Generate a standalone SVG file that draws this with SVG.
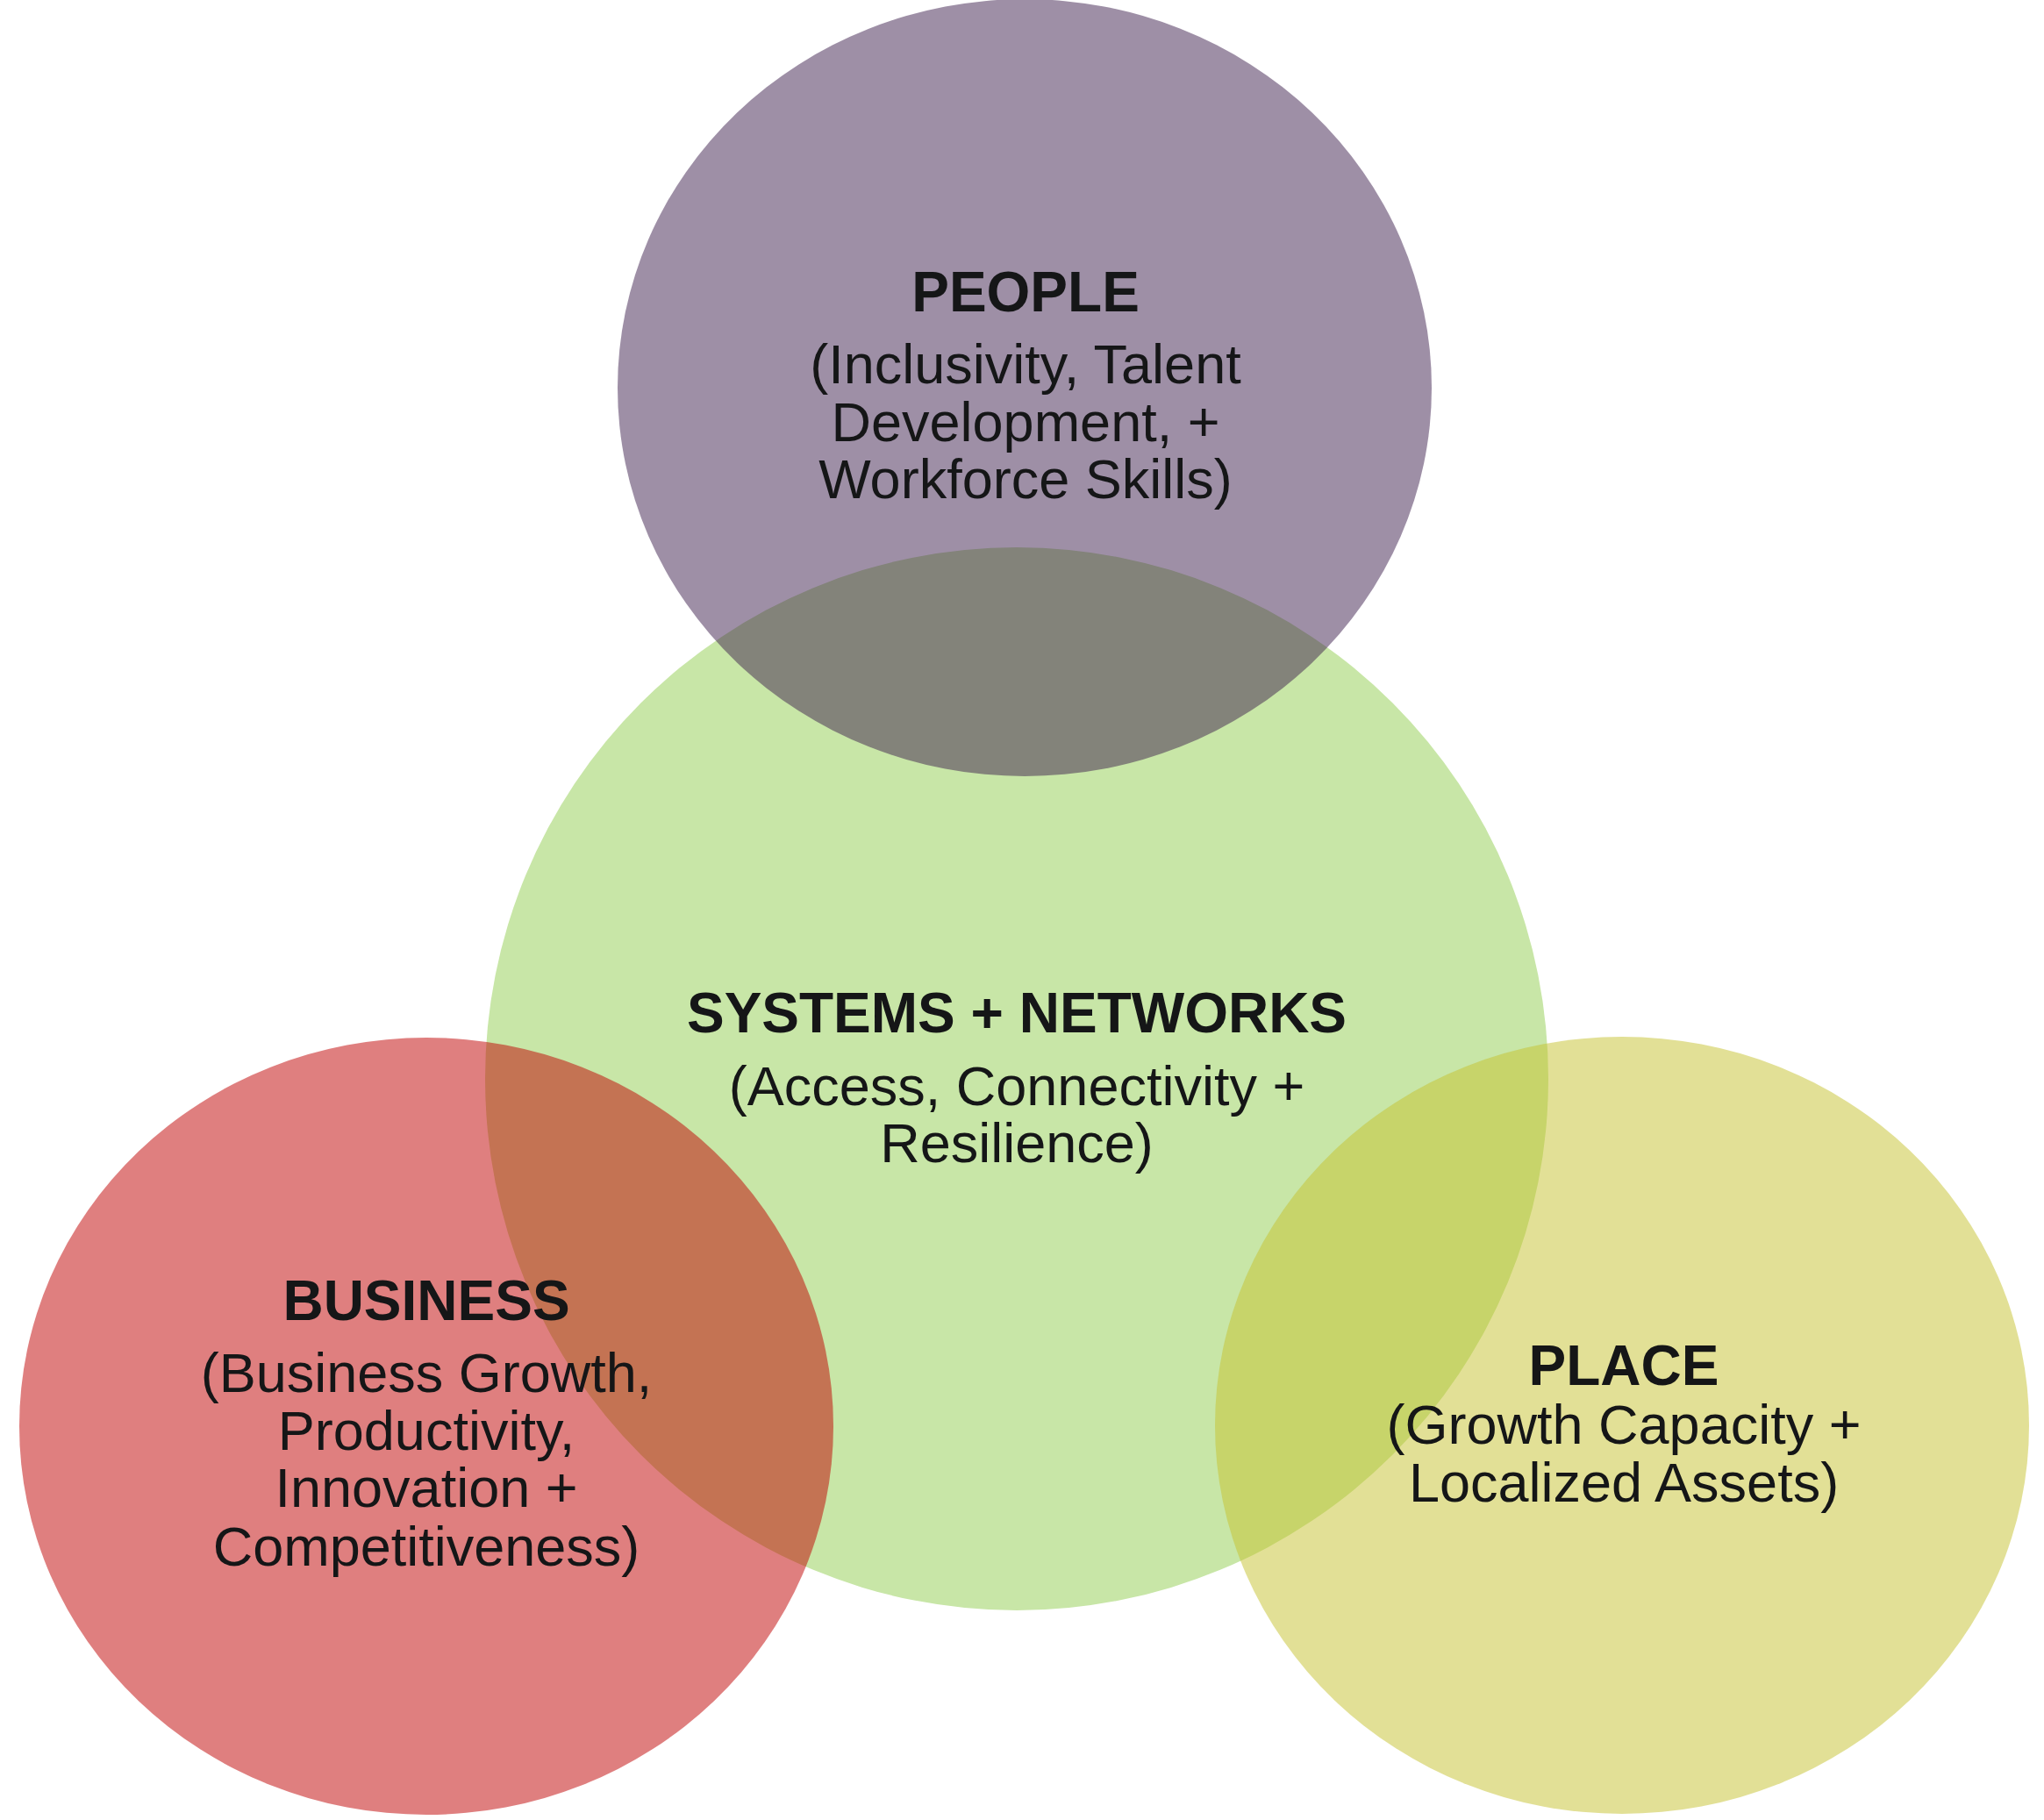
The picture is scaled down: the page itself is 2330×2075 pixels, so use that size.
<svg xmlns="http://www.w3.org/2000/svg" width="2330" height="2075" viewBox="0 0 2330 2075">
<style>
.t{font-family:"Liberation Sans",Arial,sans-serif;fill:#151617;text-anchor:middle;font-size:63px}
.b{font-weight:bold;font-size:64px}
.ov{opacity:0.5}
</style>
<rect width="2330" height="2075" fill="#ffffff"/>
<g id="systems">
<circle cx="1159" cy="1230" r="606" fill="#c8e6a7"/>
</g>
<g id="people">
<ellipse class="ov" cx="1168" cy="442" rx="464" ry="443" fill="#3d1f4d"/>
</g>
<g id="business">
<ellipse class="ov" cx="486" cy="1626" rx="464" ry="443" fill="#bf0000"/>
</g>
<g id="place">
<ellipse class="ov" cx="1849" cy="1625" rx="464" ry="443" fill="#c5c12d"/>
</g>
<g id="labels">
<g id="people-label">
<text class="t b" x="1169" y="355">PEOPLE</text>
<text class="t" x="1169" y="437">(Inclusivity, Talent</text>
<text class="t" x="1169" y="503">Development, +</text>
<text class="t" x="1169" y="568">Workforce Skills)</text>
</g>
<g id="systems-label">
<text class="t b" x="1159" y="1177">SYSTEMS + NETWORKS</text>
<text class="t" x="1159" y="1260">(Access, Connectivity +</text>
<text class="t" x="1159" y="1325">Resilience)</text>
</g>
<g id="business-label">
<text class="t b" x="486" y="1505">BUSINESS</text>
<text class="t" x="486" y="1587">(Business Growth,</text>
<text class="t" x="486" y="1653">Productivity,</text>
<text class="t" x="486" y="1718">Innovation +</text>
<text class="t" x="486" y="1785">Competitiveness)</text>
</g>
<g id="place-label">
<text class="t b" x="1851" y="1579">PLACE</text>
<text class="t" x="1851" y="1646">(Growth Capacity +</text>
<text class="t" x="1851" y="1712">Localized Assets)</text>
</g>
</g>
<g id="connectors"/>
</svg>
